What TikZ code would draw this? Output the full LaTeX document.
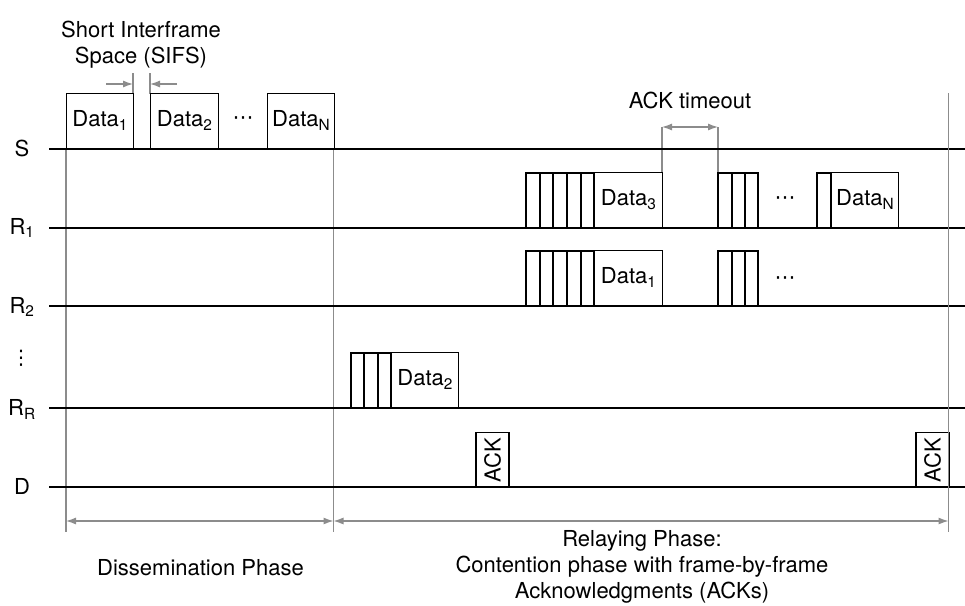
\documentclass[tikz,border=0pt]{standalone}
\usepackage{fontspec}
\setmainfont{TeX Gyre Heros}
\newfontfamily\symfont{DejaVu Sans}
\usepackage{tikz}
\usetikzlibrary{arrows.meta, positioning}
\tikzset{
    framenode/.style = {draw, rectangle, inner sep=0pt, line width=1.4pt, anchor=south west,
      minimum width=67pt, minimum height=55pt},
    acknode/.style = {draw, rectangle, inner sep=0pt, line width=1.4pt, rotate=90,
      minimum width=55pt, minimum height=33pt},
    textnode/.style = {draw=none, fill=none, rectangle, inner sep=0pt},
    labelnode/.style = {draw=none, inner sep=0pt, anchor=base},
    dotnode/.style = {draw=none, inner sep=0pt, font=\symfont\fontsize{21}{21}\selectfont},
    slot/.style = {line width=1.4pt},
    timeline/.style = {black, line width=1.4pt},
    guide/.style = {lgray, line width=1.2pt},
    connect/.style = {lgray, line width=1.2pt, <->},
    every text node part/.style={align=center}
}
\definecolor{lgray}{RGB}{140, 140, 140}

\begin{document}
\begin{tikzpicture}[x=1pt, y=-1pt, >={Latex[length=10pt,width=7pt]},
    every node/.append style={font=\fontsize{22}{26}\selectfont}]
    \useasboundingbox (0,0) rectangle (965,605);

    % guides
    \draw[guide] (66,149) -- (66,532);
    \draw[guide] (333.5,149) -- (333.5,532);
    \draw[guide] (133,73) -- (133,94);
    \draw[guide] (150,73) -- (150,94);
    \draw[guide] (662,127) -- (662,173);
    \draw[guide] (718,127) -- (718,173);

    % time lines
    \foreach \y in {149,228,306,408,487}
        \draw[timeline] (49,\y) -- (965,\y);

    \node [labelnode] (s) at (22,156) {S};
    \node [labelnode] (r1) at (22,234) {R\textsubscript{1}};
    \node [labelnode] (r2) at (22,313) {R\textsubscript{2}};
    \node [textnode, font=\symfont\fontsize{20}{20}\selectfont] (vd) at (21,358) {⋮};
    \node [labelnode] (rr) at (22,415) {R\textsubscript{R}};
    \node [labelnode] (d) at (22,494) {D};

    % source
    \node [framenode] (sdata1) at (66,149) {Data\textsubscript{1}};
    \node [framenode, minimum width=68pt] (sdata2) at (150,149) {Data\textsubscript{2}};
    \node [dotnode] (sdots) at (243,121) {⋯};
    \node [framenode] (sdatan) at (267,149) {Data\textsubscript{N}};

    \node [textnode] (sifs) at (141,45) {Short Interframe\\Space (SIFS)};
    \coordinate (sifsa) at (106,84);
    \coordinate (sifsb) at (133,84);
    \coordinate (sifsc) at (177,84);
    \coordinate (sifsd) at (150,84);
    \draw[guide, ->] (sifsa) -- (sifsb);
    \draw[guide, ->] (sifsc) -- (sifsd);

    % relays (contention slots)
    \foreach \y in {228,306} {
        \draw[slot] (526,\y) rectangle (594,\y-55);
        \foreach \x in {540,553,567,581}
            \draw[slot] (\x,\y) -- (\x,\y-55);
        \draw[slot] (718,\y) rectangle (758,\y-55);
        \foreach \x in {732,745}
            \draw[slot] (\x,\y) -- (\x,\y-55);
    }
    \draw[slot] (817,228) rectangle (831,173);
    \draw[slot] (351,408) rectangle (391,353);
    \foreach \x in {364,378}
        \draw[slot] (\x,408) -- (\x,353);

    \node [framenode, minimum width=68pt] (r1data3) at (594,228) {Data\textsubscript{3}};
    \node [dotnode] (r1dots) at (785,201) {⋯};
    \node [framenode] (r1datan) at (831,228) {Data\textsubscript{N}};
    \node [framenode, minimum width=68pt] (r2data1) at (594,306) {Data\textsubscript{1}};
    \node [dotnode] (r2dots) at (785,281) {⋯};
    \node [framenode] (rrdata2) at (391,408) {Data\textsubscript{2}};

    \node [textnode] (ackto) at (690,100) {ACK timeout};
    \coordinate (ackl) at (662,127);
    \coordinate (ackr) at (718,127);
    \draw[connect] (ackl) -- (ackr);

    % destination
    \node [acknode] (ack1) at (492.5,460) {ACK};
    \node [acknode] (ack2) at (932.5,460) {ACK};
    \draw[guide] (948.5,93) -- (948.5,532);

    % phases
    \coordinate (p0) at (66,521);
    \coordinate (p1) at (333.5,521);
    \coordinate (p2) at (948.5,521);
    \draw[connect] (p0) -- (p1);
    \draw[connect] (p1) -- (p2);
    \node [textnode] (dissem) at (200.5,568) {Dissemination Phase};
    \node [textnode] (relay) at (642,567) {Relaying Phase:\\Contention phase with frame-by-frame\\Acknowledgments (ACKs)};
\end{tikzpicture}
\end{document}
